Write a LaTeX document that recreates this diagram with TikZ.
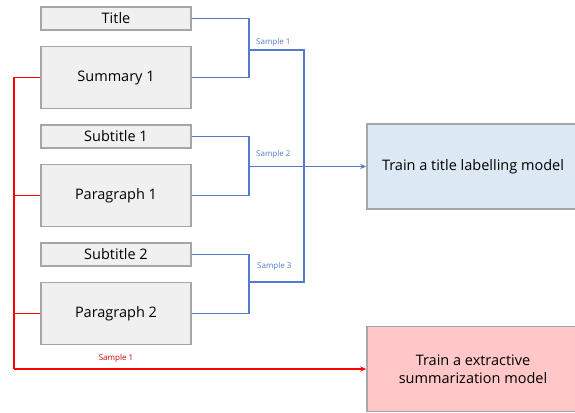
\documentclass[tikz,border=0pt]{standalone}
\usepackage{fontspec}
\setmainfont{Open Sans}
\usepackage{tikz}
\usetikzlibrary{positioning, arrows.meta}

\definecolor{boxgray}{RGB}{166,166,166}
\definecolor{boxfill}{RGB}{240,240,240}
\definecolor{sampleblue}{RGB}{84,122,206}
\definecolor{titlefill}{RGB}{220,232,244}
\definecolor{sumfill}{RGB}{255,199,199}
\definecolor{samplered}{RGB}{255,0,0}

\begin{document}
\begin{tikzpicture}[
		x=1pt, y=1pt,
		node distance=15pt, % Vertical spacing of the text blocks
		>={Stealth[length=6pt, width=5pt]},
		% Style for the text blocks (left column)
		block/.style={
			rectangle,
			draw=boxgray,
			fill=boxfill,
			line width=1.5pt,
			minimum width=150pt,
			minimum height=23pt,
			inner sep=0pt,
			font=\fontsize{14.5}{17}\selectfont
		},
		% Tall text blocks
		tallblock/.style={block, minimum height=62pt},
		% Style for the two models
		model/.style={
			rectangle,
			draw=boxgray,
			line width=1.5pt,
			minimum width=212pt,
			minimum height=85pt,
			align=center,
			font=\fontsize{14.5}{18}\selectfont
		},
		% Style for the connectors
		bluelink/.style={draw=sampleblue, line width=1.5pt},
		redlink/.style={draw=samplered, line width=1.5pt},
		tag/.style={font=\fontsize{8}{9}\selectfont, inner sep=1pt}
	]
	
	\useasboundingbox (0,0) rectangle (575,-412);
	\clip (0,0) rectangle (575,-412);
	
	% --- TEXT BLOCKS ---
	\node[block] at (116,-18.5) (Title) {Title};
	\node[tallblock, below=of Title] (Summary) {Summary 1};
	\node[block, below=of Summary] (Sub1) {Subtitle 1};
	\node[tallblock, below=of Sub1] (Para1) {Paragraph 1};
	\node[block, below=of Para1] (Sub2) {Subtitle 2};
	\node[tallblock, below=of Sub2] (Para2) {Paragraph 2};
	
	% --- MODELS ---
	\node[model, fill=titlefill] at (473,-166.5) (TitleModel) {Train a title labelling model};
	\node[model, fill=sumfill] at (473,-369) (SumModel) {Train a extractive\\summarization model};
	
	% --- JUNCTIONS ---
	\coordinate (J1) at (249,-50);
	\coordinate (J2) at (249,-166.5);
	\coordinate (J3) at (249,-282);
	\coordinate (Bus) at (304,-50);
	\coordinate (RedBus) at (14,-369);
	
	% Samples for the title labelling model
	\draw[bluelink] (Title.east) -| (J1) |- (Summary.east);
	\draw[bluelink] (Sub1.east) -| (J2) |- (Para1.east);
	\draw[bluelink] (Sub2.east) -| (J3) |- (Para2.east);
	\draw[bluelink] (J1) -- (Bus) -- (Bus |- J3) -- (J3);
	\draw[bluelink, ->] (J2) -- (TitleModel.west);
	
	\node[tag, text=sampleblue, above right=2pt and 6pt of J1] {Sample 1};
	\node[tag, text=sampleblue, above right=7pt and 6pt of J2] {Sample 2};
	\node[tag, text=sampleblue, above right=10pt and 7pt of J3] {Sample 3};
	
	% Samples for the summarization model
	\draw[redlink] (Summary.west) -| (RedBus);
	\draw[redlink] (Para1.west) -- (Para1.west -| RedBus);
	\draw[redlink] (Para2.west) -- (Para2.west -| RedBus);
	\draw[redlink, ->] (RedBus) -- (SumModel.west);
	
	\node[tag, text=samplered!80!black] at (116,-358) {Sample 1};
	
\end{tikzpicture}
\end{document}
